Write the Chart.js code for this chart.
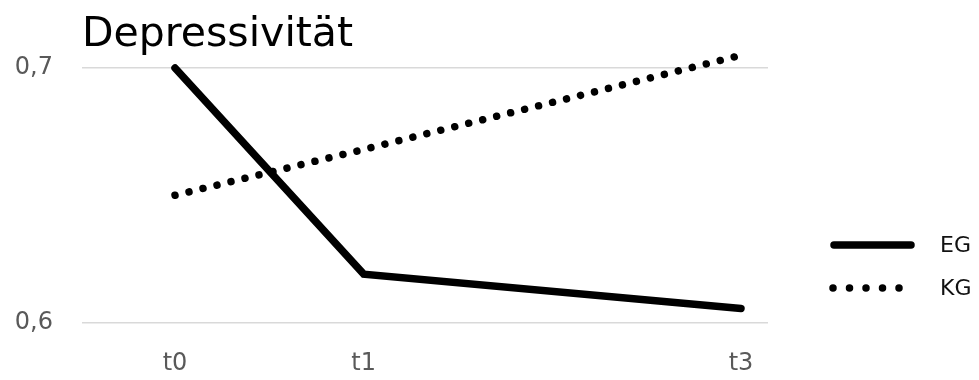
<!DOCTYPE html>
<html>
<head>
<meta charset="utf-8">
<script src="https://cdn.jsdelivr.net/npm/chart.js@4/dist/chart.umd.min.js"></script>
<style>
body{margin:0;background:#fff;}
.box{width:979px;height:380px;position:relative;}
</style>
</head>
<body>
<div class="box"><canvas id="chart"></canvas></div>
<script>
// data
const titleText = 'Depressivität';
const timeLabels = ['t0','t1','t3'];
const timePoints = [0,1,3];
const egValues = [0.700,0.619,0.6055];
const kgValues = [0.650,0.668,0.705];
const yTicks = [0.6,0.7];

const ctx = document.querySelector("#chart").getContext("2d");

function toPoints(vals){
	return vals.map((v,i)=>({x:timePoints[i], y:v}));
}

// title and legend drawn by hand, Excel style
const extras = {
	id:'extras',
	afterDraw(chart){
		const c = chart.ctx;
		c.save();
		c.fillStyle = '#000';
		c.font = '41px "DejaVu Sans"';
		c.textBaseline = 'alphabetic';
		c.fillText(titleText, 82, 46);

		chart.data.datasets.forEach((ds,i)=>{
			const y = 245 + i*43;
			c.beginPath();
			c.lineWidth = ds.borderWidth;
			c.strokeStyle = ds.borderColor;
			c.lineCap = 'round';
			if(ds.borderDash && ds.borderDash.length){
				c.setLineDash([0.001,16.5]);
				c.moveTo(833,y);
				c.lineTo(902,y);
			}else{
				c.setLineDash([]);
				c.moveTo(834,y);
				c.lineTo(911,y);
			}
			c.stroke();
			c.setLineDash([]);
			c.fillStyle = '#111';
			c.font = '22px "DejaVu Sans"';
			c.textBaseline = 'middle';
			c.fillText(ds.label, 940, y+1);
		});
		c.restore();
	}
};

let chart1 = new Chart(ctx,{
	type:'line',
	data:{
		datasets:[{
			label:'EG',
			data:toPoints(egValues),
			borderColor:'#000',
			borderWidth:7.5,
			borderCapStyle:'round',
			pointRadius:0,
			tension:0,
			clip:false
		},{
			label:'KG',
			data:toPoints(kgValues),
			borderColor:'#000',
			borderWidth:7.5,
			borderCapStyle:'round',
			borderDash:[0.001,14.4],
			pointRadius:0,
			tension:0,
			clip:false
		}]
	},
	options:{
		responsive:true,
		maintainAspectRatio:false,
		animation:false,
		layout:{padding:{left:0,right:211,top:68,bottom:0}},
		plugins:{
			legend:{display:false},
			title:{display:false},
			tooltip:{enabled:false}
		},
		scales:{
			x:{
				type:'linear',
				min:-0.493,
				max:3.143,
				afterBuildTicks:(axis)=>{ axis.ticks = timePoints.map(v=>({value:v})); },
				afterFit:(axis)=>{ axis.height = 57.5; },
				grid:{display:false},
				border:{display:false},
				ticks:{
					autoSkip:false,
					maxRotation:0,
					padding:19,
					color:'#595959',
					font:{family:'DejaVu Sans',size:24},
					callback:(v)=>timeLabels[timePoints.indexOf(v)]
				}
			},
			y:{
				min:0.6,
				max:0.7,
				afterBuildTicks:(axis)=>{ axis.ticks = yTicks.map(v=>({value:v})); },
				afterFit:(axis)=>{ axis.width = 82; },
				grid:{color:'#d9d9d9',lineWidth:1.5,drawTicks:false},
				border:{display:false},
				ticks:{
					padding:29,
					color:'#595959',
					font:{family:'DejaVu Sans',size:24},
					callback:(v)=>v.toFixed(1).replace('.',',')
				}
			}
		}
	},
	plugins:[extras]
});
</script>
</body>
</html>
